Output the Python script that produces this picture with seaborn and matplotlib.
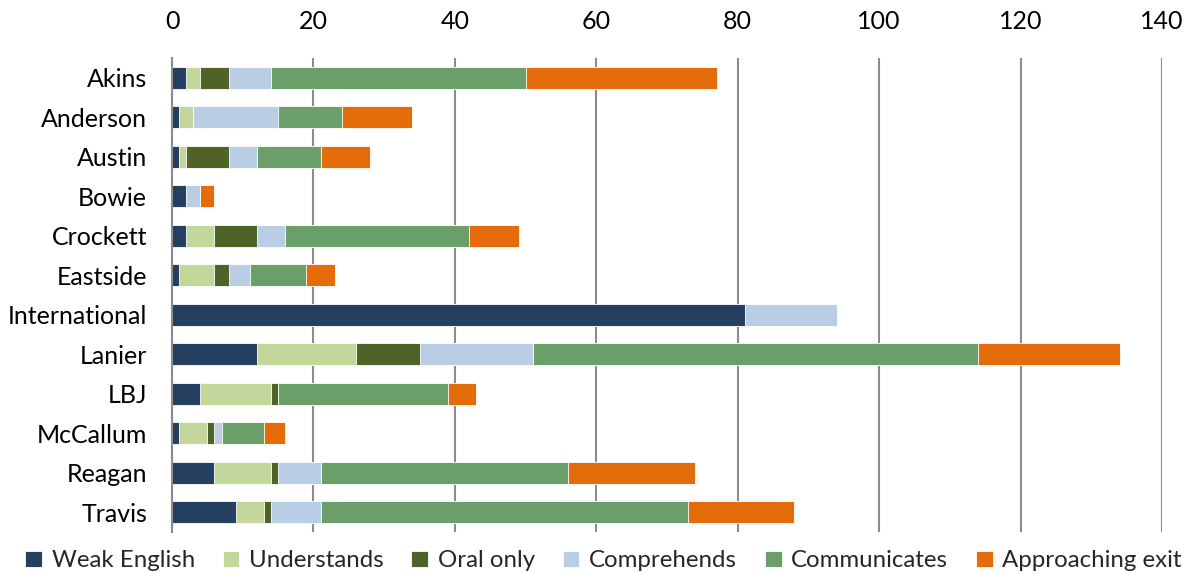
import numpy as np
import pandas as pd
import matplotlib
matplotlib.use("Agg")
import matplotlib.pyplot as plt
import seaborn as sns

schools = ["Akins", "Anderson", "Austin", "Bowie", "Crockett", "Eastside",
           "International", "Lanier", "LBJ", "McCallum", "Reagan", "Travis"]
levels = ["Weak English", "Understands", "Oral only", "Comprehends",
          "Communicates", "Approaching exit"]

weak_english = [2, 1, 1, 2, 2, 1, 81, 12, 4, 1, 6, 9]
understands = [2, 2, 1, 0, 4, 5, 0, 14, 10, 4, 8, 4]
oral_only = [4, 0, 6, 0, 6, 2, 0, 9, 1, 1, 1, 1]
comprehends = [6, 12, 4, 2, 4, 3, 13, 16, 0, 1, 6, 7]
communicates = [36, 9, 9, 0, 26, 8, 0, 63, 24, 6, 35, 52]
approaching_exit = [27, 10, 7, 2, 7, 4, 0, 20, 4, 3, 18, 15]

colors = ["#243F60", "#C4D79B", "#4F6228", "#B9CDE5", "#6A9F6A", "#E46C0A"]

df = pd.DataFrame({
    "school": schools,
    "Weak English": weak_english,
    "Understands": understands,
    "Oral only": oral_only,
    "Comprehends": comprehends,
    "Communicates": communicates,
    "Approaching exit": approaching_exit,
})
cum = df[levels].cumsum(axis=1)
cum["school"] = schools

sns.set_theme(style="white")
plt.rcParams["font.family"] = ["Lato", "DejaVu Sans"]
fs = 18

fig = plt.figure(figsize=(11.88, 5.73), dpi=100)
ax = fig.add_axes([172 / 1188, 1 - 532 / 573, 990 / 1188, 474 / 573])

# draw cumulative totals from the outermost segment inwards
for level, color in reversed(list(zip(levels, colors))):
    sns.barplot(data=cum, x=level, y="school", color=color, width=0.56,
                orient="h", ax=ax, label=level, saturation=1,
                edgecolor="white", linewidth=0.6)

ax.legend().remove()
ax.set_xlim(0, 140)
ax.set_xticks(np.arange(0, 141, 20))
ax.xaxis.tick_top()
ax.tick_params(axis="x", length=0, pad=18, labelsize=fs, colors="black")
ax.tick_params(axis="y", length=0, pad=18, labelsize=fs, colors="black")
ax.set_xlabel("")
ax.set_ylabel("")
ax.grid(axis="x", color="#8C8C8C", linewidth=1.5)
ax.set_axisbelow(True)
for side in ["top", "right", "bottom"]:
    ax.spines[side].set_visible(False)
ax.spines["left"].set_color("#8C8C8C")
ax.spines["left"].set_linewidth(1.5)

handles, labels = ax.get_legend_handles_labels()
order = [labels.index(l) for l in levels]
fig.legend([handles[i] for i in order], [labels[i] for i in order],
           loc="lower center", bbox_to_anchor=(0.508, -0.035), ncol=6,
           frameon=False, fontsize=17.3, handlelength=0.7, handleheight=0.7,
           handletextpad=0.4, columnspacing=1.15)

fig.savefig("out.png", dpi=100)
